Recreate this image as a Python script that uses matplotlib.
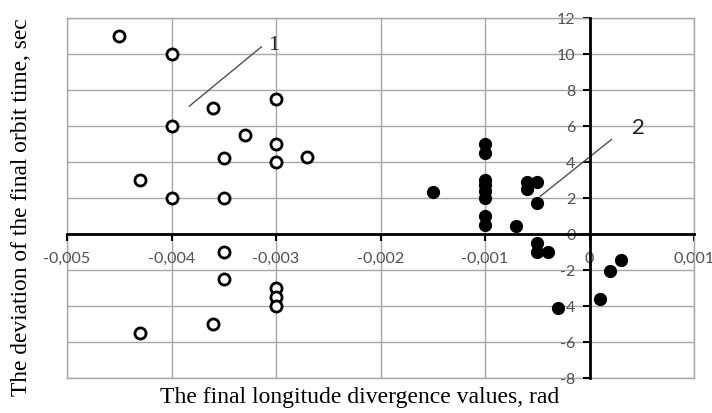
import matplotlib
matplotlib.use("Agg")
import matplotlib.pyplot as plt

# Series 1 (open circles)
open_x = [-0.0045, -0.0040, -0.0036, -0.0030, -0.0040, -0.0033, -0.0030, -0.0035,
          -0.0030, -0.0027, -0.0043, -0.0040, -0.0035, -0.0035, -0.0035, -0.0030,
          -0.0030, -0.0030, -0.0036, -0.0043]
open_y = [11.0, 10.0, 7.0, 7.5, 6.0, 5.5, 5.0, 4.2,
          4.0, 4.3, 3.0, 2.0, 2.0, -1.0, -2.5, -3.0,
          -3.5, -4.0, -5.0, -5.5]

# Series 2 (filled circles)
fill_x = [-0.0015, -0.0010, -0.0010, -0.0010, -0.0010, -0.0010, -0.0010, -0.0010,
          -0.0010, -0.0007, -0.0006, -0.0006, -0.0005, -0.0005, -0.0005, -0.0005,
          -0.0004, -0.0003, 0.0001, 0.0002, 0.0003]
fill_y = [2.35, 5.0, 4.5, 3.0, 2.7, 2.4, 2.0, 1.0,
          0.5, 0.45, 2.9, 2.5, 2.9, 1.7, -0.5, -1.0,
          -1.0, -4.1, -3.6, -2.05, -1.45]

x_ticks = [-0.005, -0.004, -0.003, -0.002, -0.001, 0.0, 0.001]
x_tick_labels = ["-0,005", "-0,004", "-0,003", "-0,002", "-0,001", "0", "0,001"]
y_ticks = [-8, -6, -4, -2, 0, 2, 4, 6, 8, 10, 12]
y_tick_labels = ["-8", "-6", "-4", "-2", "0", "2", "4", "6", "8", "10", "12"]

# annotation leader lines: (start, end) and labels
lead1 = ([-0.00383, -0.00314], [7.1, 10.4])
lead2 = ([-0.00047, 0.00021], [2.1, 5.25])
label1 = (-0.00308, 10.5, "1")
label2 = (0.00041, 5.9, "2")

fig = plt.figure(figsize=(7.12, 4.13), dpi=100)
ax = fig.add_axes([67/712, 1 - 378/413, (694-67)/712, (378-18)/413])

ax.set_xlim(-0.005, 0.001)
ax.set_ylim(-8, 12)
ax.set_xticks(x_ticks)
ax.set_yticks(y_ticks)
ax.grid(True, color="#a6a6a6", linewidth=1.0)
ax.set_axisbelow(True)

for s in ["top", "right"]:
    ax.spines[s].set_color("#a6a6a6")
    ax.spines[s].set_linewidth(1.0)
ax.spines["left"].set_position(("data", 0))
ax.spines["bottom"].set_position(("data", 0))
ax.spines["left"].set_linewidth(2.0)
ax.spines["bottom"].set_linewidth(2.0)
ax.spines["left"].set_zorder(3)
ax.spines["bottom"].set_zorder(3)
ax.axvline(-0.005, color="#a6a6a6", lw=1.0, clip_on=False, zorder=0)
ax.axhline(-8, color="#a6a6a6", lw=1.0, clip_on=False, zorder=0)

tick_font = dict(family=["Lato", "DejaVu Sans"], size=11.5, color="#505050")
ax.set_xticklabels(x_tick_labels, **tick_font)
ax.set_yticklabels(y_tick_labels, **tick_font)
ax.tick_params(axis="x", direction="out", length=5, width=1.5, pad=8)
ax.tick_params(axis="y", direction="out", length=5, width=1.5, pad=5)

ax.plot(open_x, open_y, linestyle="none", marker="o", markersize=8,
        markerfacecolor="white", markeredgecolor="black", markeredgewidth=2.0, zorder=4)
ax.plot(fill_x, fill_y, linestyle="none", marker="o", markersize=8.5,
        markerfacecolor="black", markeredgecolor="black", zorder=4)

ax.plot(lead1[0], lead1[1], color="#505050", lw=1.0, zorder=2)
ax.plot(lead2[0], lead2[1], color="#505050", lw=1.0, zorder=2)
ax.text(label1[0], label1[1], label1[2], family="Liberation Serif", size=16,
        color="#222222", ha="left", va="center")
ax.text(label2[0], label2[1], label2[2], family=["Lato", "DejaVu Sans"], size=16,
        color="#222222", ha="left", va="center")

fig.text(360/712, 1 - 397/413, "The final longitude divergence values, rad",
         family="Liberation Serif", size=17, ha="center", va="center")
fig.text(22/712, 1 - 207/413, "The deviation of the final orbit time, sec",
         family="Liberation Serif", size=16.8, ha="center", va="center", rotation=90)

fig.savefig("out.png", dpi=100)
